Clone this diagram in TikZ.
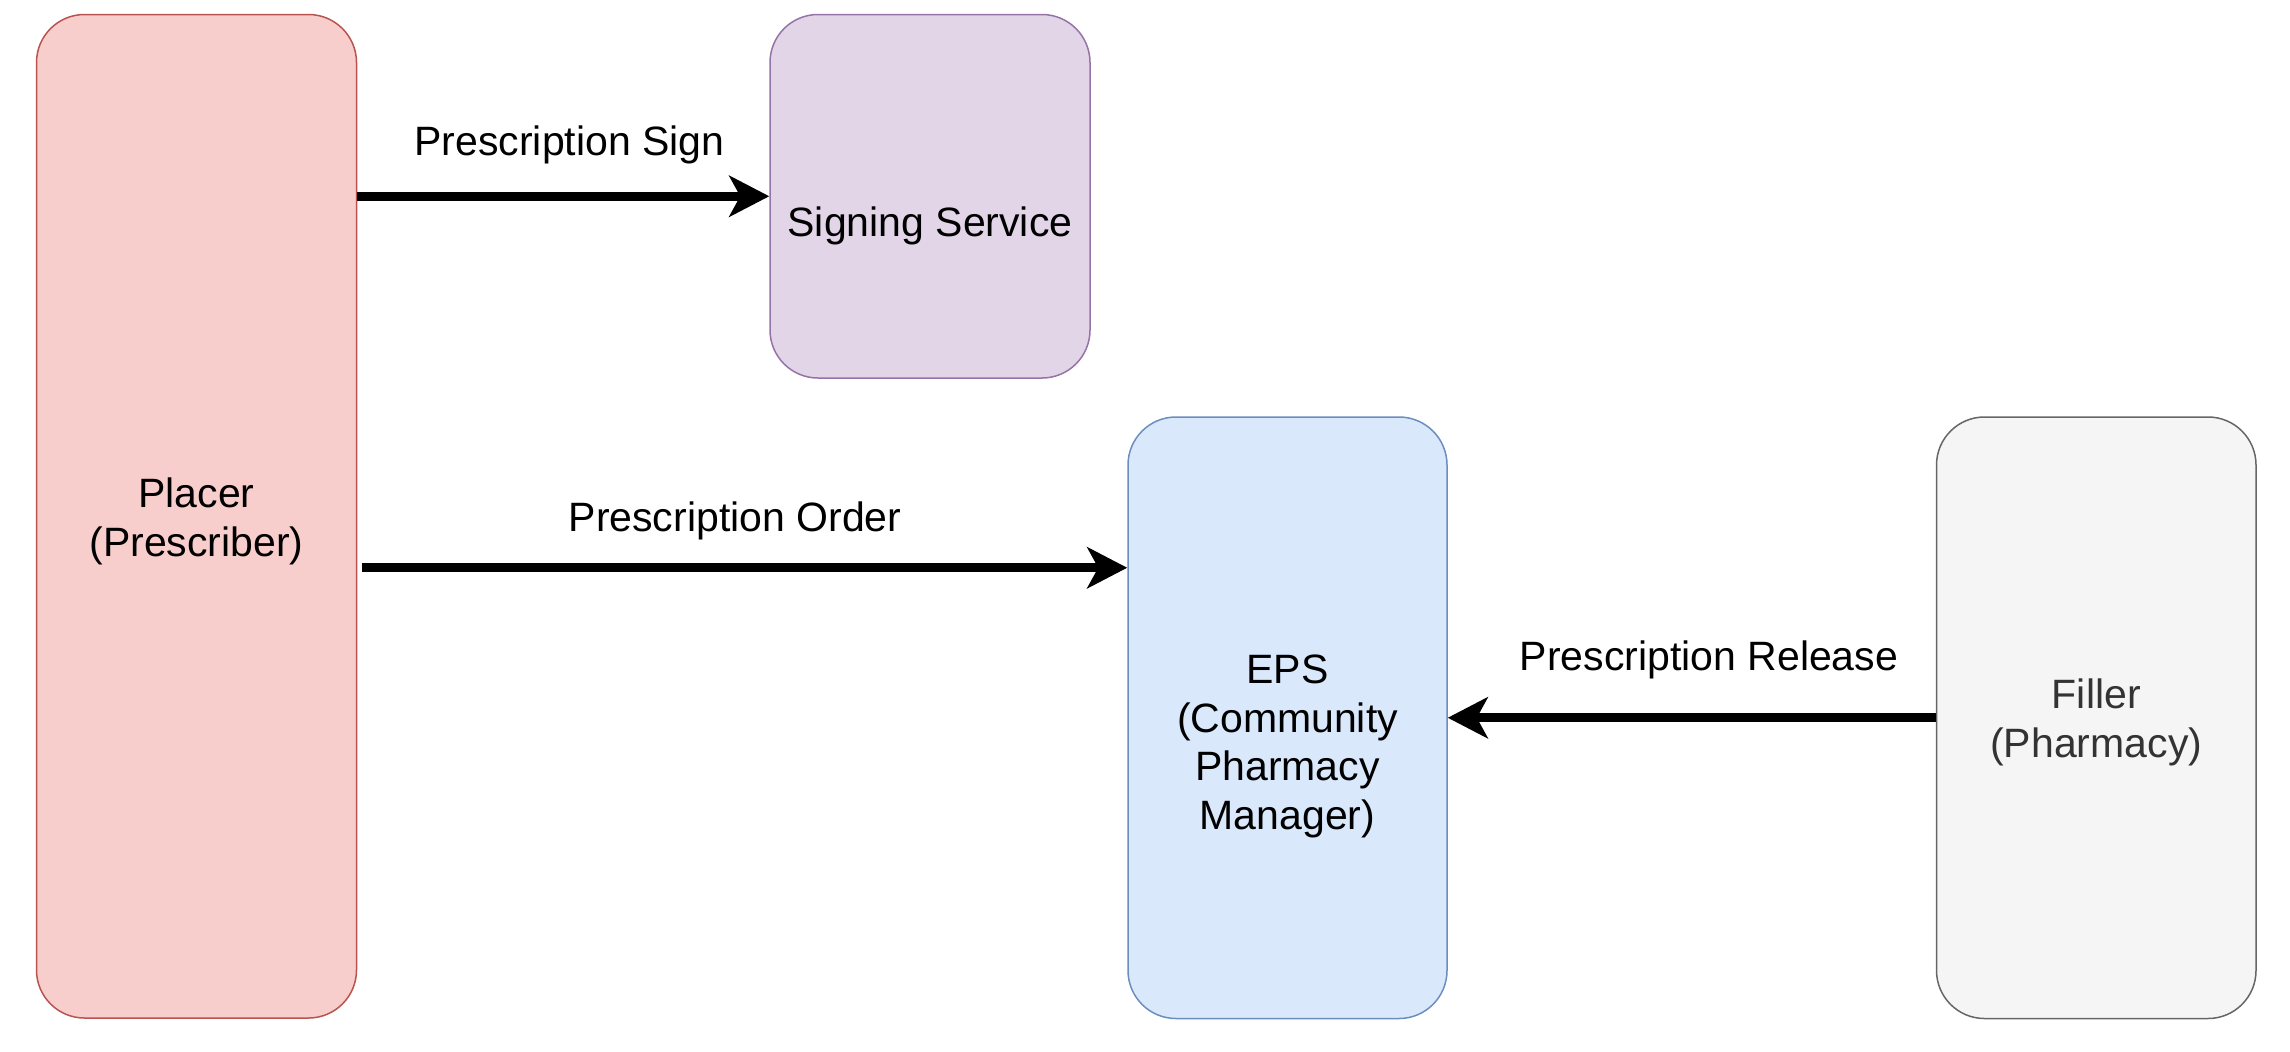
\documentclass[tikz,border=0pt]{standalone}
\usepackage{fontspec}
\setmainfont{Liberation Sans}
\usetikzlibrary{arrows.meta}
\definecolor{placerfill}{HTML}{F8CECC}
\definecolor{placerline}{HTML}{B85450}
\definecolor{signfill}{HTML}{E1D5E7}
\definecolor{signline}{HTML}{9673A6}
\definecolor{epsfill}{HTML}{DAE8FC}
\definecolor{epsline}{HTML}{6C8EBF}
\definecolor{fillerfill}{HTML}{F5F5F5}
\definecolor{fillerline}{HTML}{666666}
\definecolor{fillertext}{HTML}{333333}
\begin{document}
\begin{tikzpicture}[x=0.5pt,y=-0.5pt,
  box/.style={draw, rounded corners=24pt, line width=0.75pt, inner sep=0pt},
  lbl/.style={font=\fontsize{20.5}{24.4}\selectfont, inner sep=0pt, align=center},
  arr/.style={line width=4.6pt, -{Stealth[length=20pt,width=20.5pt,inset=5.5pt]}}]
\useasboundingbox (0,0) rectangle (2290,1051);

\node[box, fill=placerfill, draw=placerline, minimum width=160pt, minimum height=501.75pt]
  (placer) at (196.5,516.25) {};
\node[lbl] (placertext) at (196.5,521) {Placer\\(Prescriber)};
\node[box, fill=signfill, draw=signline, minimum width=160pt, minimum height=181.75pt]
  (sign) at (930,196.25) {};
\node[lbl] (signtext) at (930,225.5) {Signing Service};
\node[box, fill=epsfill, draw=epsline, minimum width=159.5pt, minimum height=300.75pt]
  (eps) at (1287.5,717.75) {};
\node[lbl] (epstext) at (1287.5,746.5) {EPS\\(Community\\Pharmacy\\Manager)};
\node[box, fill=fillerfill, draw=fillerline, minimum width=159.75pt, minimum height=300.75pt]
  (filler) at (2096.25,717.75) {};
\node[lbl, text=fillertext] (fillertext) at (2096.25,722) {Filler\\(Pharmacy)};

\coordinate (ordend) at ([yshift=75pt]eps.west);
\draw[arr] (placer.east |- sign.west) -- (sign.west);
\draw[arr] ([xshift=2.5pt]placer.east |- ordend) -- (ordend);
\draw[arr] (filler.west |- eps.east) -- (eps.east);

\node[lbl, anchor=base] (l1) at (569.5,155) {Prescription Sign};
\node[lbl, anchor=base] (l2) at (735,531) {Prescription Order};
\node[lbl, anchor=base] (l3) at (1709,670) {Prescription Release};
\end{tikzpicture}
\end{document}
